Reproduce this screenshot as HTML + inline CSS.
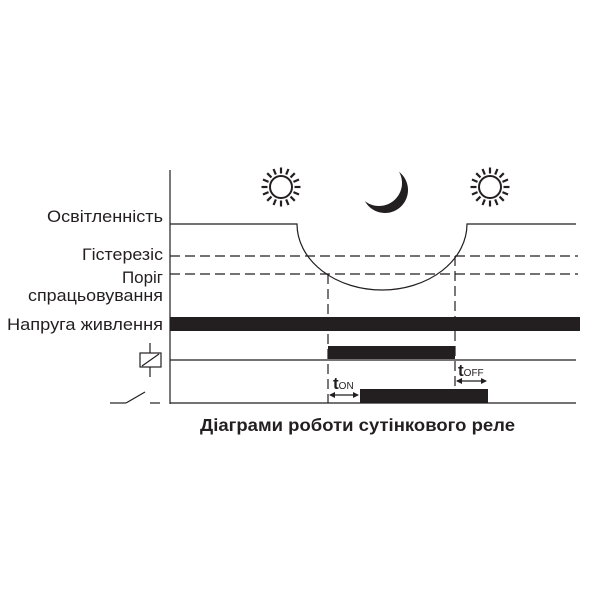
<!DOCTYPE html>
<html><head><meta charset="utf-8"><style>
html,body{margin:0;padding:0;background:#fff;}
svg{display:block;}
text{font-family:"Liberation Sans",Arial,sans-serif;fill:#231f20;}
</style></head><body>
<svg width="600" height="600" viewBox="0 0 600 600" xmlns="http://www.w3.org/2000/svg">
<defs>
<g id="sun">
<circle cx="0" cy="0" r="11" fill="none" stroke="#231f20" stroke-width="2"/>
<g stroke="#231f20" stroke-width="2.2">
<line x1="0" y1="-13.5" x2="0" y2="-19.5"/>
<line x1="0" y1="-13.5" x2="0" y2="-19.5" transform="rotate(22.5)"/>
<line x1="0" y1="-13.5" x2="0" y2="-19.5" transform="rotate(45)"/>
<line x1="0" y1="-13.5" x2="0" y2="-19.5" transform="rotate(67.5)"/>
<line x1="0" y1="-13.5" x2="0" y2="-19.5" transform="rotate(90)"/>
<line x1="0" y1="-13.5" x2="0" y2="-19.5" transform="rotate(112.5)"/>
<line x1="0" y1="-13.5" x2="0" y2="-19.5" transform="rotate(135)"/>
<line x1="0" y1="-13.5" x2="0" y2="-19.5" transform="rotate(157.5)"/>
<line x1="0" y1="-13.5" x2="0" y2="-19.5" transform="rotate(180)"/>
<line x1="0" y1="-13.5" x2="0" y2="-19.5" transform="rotate(202.5)"/>
<line x1="0" y1="-13.5" x2="0" y2="-19.5" transform="rotate(225)"/>
<line x1="0" y1="-13.5" x2="0" y2="-19.5" transform="rotate(247.5)"/>
<line x1="0" y1="-13.5" x2="0" y2="-19.5" transform="rotate(270)"/>
<line x1="0" y1="-13.5" x2="0" y2="-19.5" transform="rotate(292.5)"/>
<line x1="0" y1="-13.5" x2="0" y2="-19.5" transform="rotate(315)"/>
<line x1="0" y1="-13.5" x2="0" y2="-19.5" transform="rotate(337.5)"/>
</g>
</g>
</defs>
<use href="#sun" x="281" y="187"/>
<use href="#sun" x="490" y="187"/>
<circle cx="385" cy="190" r="23" fill="#231f20"/>
<circle cx="379" cy="183" r="23" fill="#fff"/>

<g stroke="#231f20" fill="none" stroke-width="1.2">
<line x1="170" y1="170" x2="170" y2="404"/>
<path d="M170,224 H297 A85,66 0 0 0 467,224 H576"/>
<g stroke-dasharray="10,5">
<line x1="170" y1="256" x2="578" y2="256"/>
<line x1="170" y1="274" x2="578" y2="274"/>
<line x1="328" y1="274" x2="328" y2="403"/>
<line x1="455" y1="256" x2="455" y2="403"/>
</g>
<line x1="170" y1="360" x2="576" y2="360"/>
<line x1="170" y1="403" x2="576" y2="403"/>
<rect x="140" y="353" width="21" height="14"/>
<line x1="150" y1="343" x2="150" y2="353"/>
<line x1="150" y1="367" x2="150" y2="377"/>
<line x1="142" y1="366" x2="159" y2="354"/>
<line x1="110" y1="403" x2="126" y2="403"/>
<line x1="126" y1="403" x2="145" y2="392"/>
<line x1="150" y1="403" x2="160" y2="403"/>
<line x1="330" y1="395" x2="358" y2="395"/>
<line x1="457" y1="381" x2="486" y2="381"/>
</g>
<g fill="#231f20">
<rect x="170" y="317" width="410" height="14"/>
<rect x="328" y="346" width="127" height="13"/>
<rect x="360" y="389" width="128" height="14"/>
<path d="M329,395 l6,-3 v6 z M359,395 l-6,-3 v6 z"/>
<path d="M456,381 l6,-3 v6 z M487,381 l-6,-3 v6 z"/>
</g>
<g font-size="17">
<text x="47" y="222" textLength="116" lengthAdjust="spacingAndGlyphs">Освітленність</text>
<text x="82" y="260" textLength="81" lengthAdjust="spacingAndGlyphs">Гістерезіс</text>
<text x="122" y="283" textLength="41" lengthAdjust="spacingAndGlyphs">Поріг</text>
<text x="28" y="301" textLength="135" lengthAdjust="spacingAndGlyphs">спрацьовування</text>
<text x="7" y="330" textLength="156" lengthAdjust="spacingAndGlyphs">Напруга живлення</text>
</g>
<text x="333" y="389" font-size="17" font-weight="bold">t<tspan font-size="10" font-weight="normal">ON</tspan></text>
<text x="458" y="376" font-size="17" font-weight="bold">t<tspan font-size="10" font-weight="normal">OFF</tspan></text>
<text x="200" y="431" font-size="17.5" font-weight="bold" textLength="315" lengthAdjust="spacingAndGlyphs">Діаграми роботи сутінкового реле</text>
</svg>
</body></html>
